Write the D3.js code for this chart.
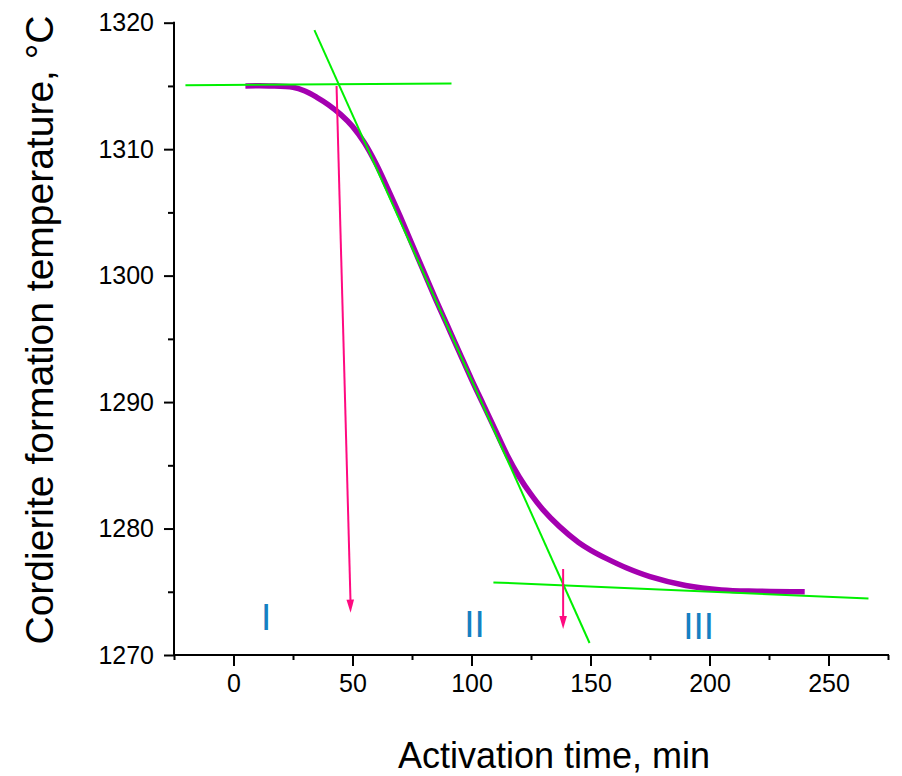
<!DOCTYPE html>
<html>
<head>
<meta charset="utf-8">
<script src="https://cdn.jsdelivr.net/npm/d3@7"></script>
<style>
  html, body { margin: 0; padding: 0; background: #fff; }
  svg { display: block; font-family: "Liberation Sans", Arial, sans-serif; }
</style>
</head>
<body>
<svg id="chart" width="902" height="776"></svg>
<script>
// Activation time (min) vs. cordierite formation temperature (°C)
const curveTime = [5, 15, 25, 30, 35, 40, 45, 50, 55, 60, 65, 70, 75, 80, 85, 90, 95, 100, 105, 110, 115, 120, 125, 130, 137, 145, 150, 157, 165, 175, 190, 205, 220, 240];
const curveTemp = [1315.0, 1315.0, 1314.9, 1314.6, 1314.1, 1313.5, 1312.75, 1311.8, 1310.5, 1308.8, 1306.8, 1304.7, 1302.5, 1300.3, 1298.1, 1296.0, 1293.9, 1291.8, 1289.8, 1287.8, 1285.8, 1284.1, 1282.7, 1281.5, 1280.15, 1278.9, 1278.3, 1277.6, 1276.9, 1276.2, 1275.5, 1275.15, 1275.05, 1275.0];

// Tangent construction lines: [x1, y1, x2, y2]
const tangentLines = [
  [-20.2, 1315.05, 91.6, 1315.2],
  [34.0, 1319.42, 149.6, 1270.95],
  [109.2, 1275.74, 266.8, 1274.47]
];

// Arrows marking the stage boundaries: [x1, y1, x2, y2]
const boundaryArrows = [
  [43.3, 1315.0, 49.2, 1273.35],
  [138.5, 1276.8, 138.5, 1272.05]
];

// Stage labels
const stageNames = ["I", "II", "III"];
const stageX = [13.7, 101.3, 195.4];
const stageY = [1271.95, 1271.4, 1271.25];

const xMajorTicks = [0, 50, 100, 150, 200, 250];
const xMinorTicks = [-25, 25, 75, 125, 175, 225, 275];
const yMajorTicks = [1270, 1280, 1290, 1300, 1310, 1320];
const yMinorTicks = [1275, 1285, 1295, 1305, 1315];

const svg = d3.select("#chart");
const plotLeft = 174, plotRight = 888, plotTop = 22.7, plotBottom = 655;

const x = d3.scaleLinear().domain([-25, 275]).range([plotLeft, plotRight]);
const y = d3.scaleLinear().domain([1270, 1320]).range([plotBottom, plotTop]);

// Axes
const fontFamily = "'Liberation Sans', Arial, sans-serif";
svg.append("g").attr("class", "x-axis").attr("transform", `translate(0,${plotBottom})`)
  .call(d3.axisBottom(x).tickValues(xMajorTicks).tickSize(11).tickPadding(8).tickFormat(d3.format("d")));
svg.append("g").attr("class", "x-minor").attr("transform", `translate(0,${plotBottom})`)
  .call(d3.axisBottom(x).tickValues(xMinorTicks).tickSize(5).tickFormat(""));

svg.append("g").attr("class", "y-axis").attr("transform", `translate(${plotLeft},0)`)
  .call(d3.axisLeft(y).tickValues(yMajorTicks).tickSize(10).tickPadding(10).tickFormat(d3.format("d")));
svg.append("g").attr("class", "y-minor").attr("transform", `translate(${plotLeft},0)`)
  .call(d3.axisLeft(y).tickValues(yMinorTicks).tickSize(6).tickFormat(""));

svg.selectAll(".domain").remove();
svg.selectAll(".tick line").attr("stroke", "#000").attr("stroke-width", 2);
svg.selectAll(".tick text").attr("font-size", "25px").attr("fill", "#000")
  .attr("font-family", fontFamily);

// Axis baselines
svg.append("line").attr("x1", plotLeft).attr("x2", plotRight).attr("y1", plotBottom).attr("y2", plotBottom)
  .attr("stroke", "#000").attr("stroke-width", 2).attr("stroke-linecap", "square");
svg.append("line").attr("x1", plotLeft).attr("x2", plotLeft).attr("y1", plotTop).attr("y2", plotBottom)
  .attr("stroke", "#000").attr("stroke-width", 2).attr("stroke-linecap", "square");

// Temperature curve
const line = d3.line().x(d => x(d[0])).y(d => y(d[1])).curve(d3.curveCatmullRom.alpha(0.5));
svg.append("path")
  .datum(curveTime.map((t, i) => [t, curveTemp[i]]))
  .attr("d", line)
  .attr("fill", "none")
  .attr("stroke", "#a400b0")
  .attr("stroke-width", 5.5);

// Tangent lines
svg.selectAll(".tangent").data(tangentLines).enter().append("line")
  .attr("class", "tangent")
  .attr("x1", d => x(d[0])).attr("y1", d => y(d[1]))
  .attr("x2", d => x(d[2])).attr("y2", d => y(d[3]))
  .attr("stroke", "#00f000").attr("stroke-width", 2);

// Boundary arrows: shaft plus a filled head ending at the arrow tip
const arrows = svg.selectAll(".arrow").data(boundaryArrows).enter().append("g").attr("class", "arrow");
arrows.append("line")
  .attr("x1", d => x(d[0])).attr("y1", d => y(d[1]))
  .attr("x2", d => x(d[2])).attr("y2", d => y(d[3]) - 8)
  .attr("stroke", "#ff0a80").attr("stroke-width", 2);
arrows.append("path")
  .attr("d", d => {
    const x1 = x(d[0]), y1 = y(d[1]), x2 = x(d[2]), y2 = y(d[3]);
    const len = Math.hypot(x2 - x1, y2 - y1);
    const ux = (x2 - x1) / len, uy = (y2 - y1) / len;
    const bx = x2 - ux * 13, by = y2 - uy * 13;
    const px = -uy * 3.8, py = ux * 3.8;
    return `M${x2},${y2}L${bx + px},${by + py}L${bx - px},${by - py}Z`;
  })
  .attr("fill", "#ff0a80");

// Stage labels
svg.selectAll(".stage").data(stageNames).enter().append("text")
  .attr("class", "stage")
  .attr("x", (d, i) => x(stageX[i])).attr("y", (d, i) => y(stageY[i]))
  .attr("text-anchor", "middle")
  .attr("font-size", "37px")
  .attr("font-family", fontFamily)
  .attr("fill", "#1580c2")
  .text(d => d);

// Axis titles
svg.append("text")
  .attr("x", 554).attr("y", 768)
  .attr("text-anchor", "middle")
  .attr("font-size", "36px").attr("fill", "#000")
  .attr("font-family", fontFamily)
  .text("Activation time, min");

svg.append("text")
  .attr("transform", "translate(53,330) rotate(-90)")
  .attr("text-anchor", "middle")
  .attr("font-size", "39px").attr("fill", "#000")
  .attr("font-family", fontFamily)
  .text("Cordierite formation temperature, °C");
</script>
</body>
</html>
